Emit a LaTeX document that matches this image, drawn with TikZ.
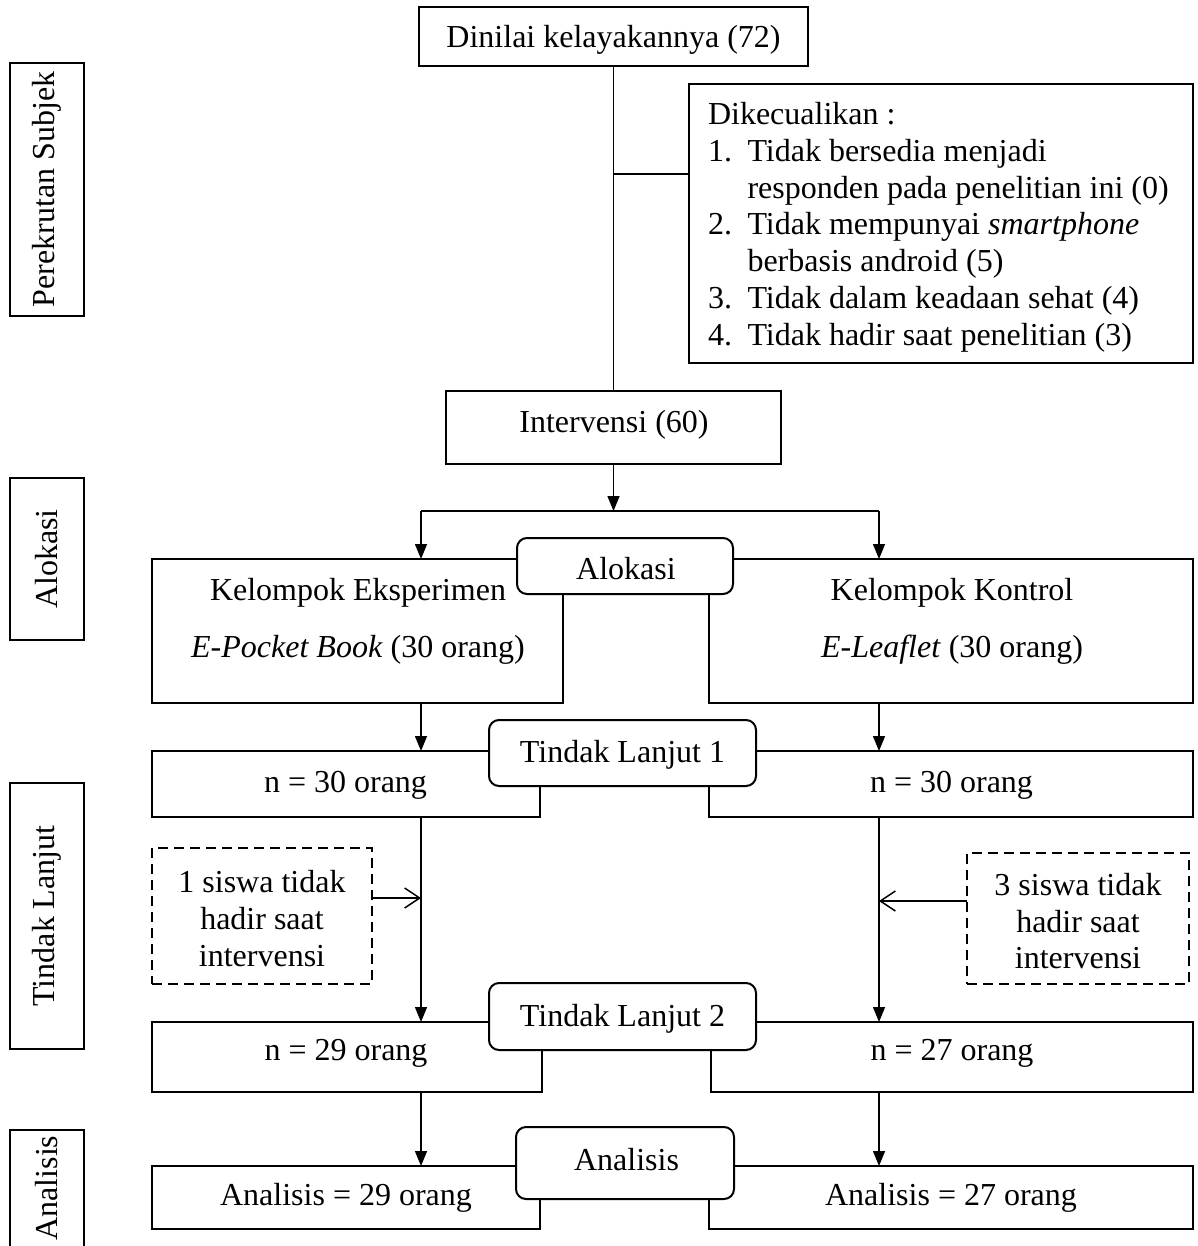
\documentclass[tikz,border=0pt]{standalone}
\usepackage{fontspec}
\setmainfont{Liberation Serif}
\usetikzlibrary{arrows.meta}
\begin{document}
\begin{tikzpicture}[x=1pt,y=-1pt,
  every node/.style={font=\fontsize{32}{36.7}\selectfont, inner sep=0pt, outer sep=0pt},
  box/.style={draw, line width=2pt, rectangle},
  rbox/.style={draw, line width=2pt, rounded corners=10pt, fill=white},
  dbox/.style={draw, line width=2.4pt, dash pattern=on 10pt off 6pt},
  txt/.style={anchor=base, align=center},
  txtl/.style={anchor=base west},
  conn/.style={line width=1.5pt},
  hconn/.style={line width=2pt},
  arr/.style={line width=1.5pt, -{Triangle[length=15pt,width=12pt]}},
  oarr/.style={line width=1.5pt, -{Straight Barb[length=15pt,width=20pt]}},
]
\useasboundingbox (0,0) rectangle (1197,1246);
\clip (0,0) rectangle (1197,1246);

% side label boxes
\node[box, minimum width=74pt, minimum height=253pt] (s1) at (47,189.5) {};
\node[box, minimum width=74pt, minimum height=162pt] (s2) at (47,559) {};
\node[box, minimum width=74pt, minimum height=266pt] (s3) at (47,916) {};
\node[box, minimum width=74pt, minimum height=140pt] (s4) at (47,1200) {};
\node[rotate=90] (ts1) at (47,189.5) {Perekrutan Subjek};
\node[rotate=90] (ts2) at (47,559) {Alokasi};
\node[rotate=90] (ts3) at (47,916) {Tindak Lanjut};
\node[rotate=90] (ts4) at (47,1188) {Analisis};

% main boxes
\node[box, minimum width=389pt, minimum height=59pt] (top) at (613.5,36.5) {};
\node[box, minimum width=504pt, minimum height=279pt] (excl) at (941,223.5) {};
\node[box, minimum width=335pt, minimum height=73pt] (interv) at (613.5,427.5) {};
\node[box, minimum width=411pt, minimum height=144pt] (grpL) at (357.5,631) {};
\node[box, minimum width=484pt, minimum height=144pt] (grpR) at (951,631) {};
\node[box, minimum width=388pt, minimum height=66pt] (n30L) at (346,784) {};
\node[box, minimum width=484pt, minimum height=66pt] (n30R) at (951,784) {};
\node[dbox, minimum width=220pt, minimum height=136pt] (dashL) at (262,916) {};
\node[dbox, minimum width=222pt, minimum height=131pt] (dashR) at (1078,918.5) {};
\node[box, minimum width=390pt, minimum height=70pt] (n29L) at (347,1057) {};
\node[box, minimum width=482pt, minimum height=70pt] (n29R) at (952,1057) {};
\node[box, minimum width=388pt, minimum height=63pt] (anL) at (346,1197.5) {};
\node[box, minimum width=484pt, minimum height=63pt] (anR) at (951,1197.5) {};

% connectors
\coordinate (xL) at (421,0);
\coordinate (xR) at (879,0);
\coordinate (j1) at (613.5,174);
\coordinate (split) at (613.5,511);
\draw[conn] (top.south) -- (interv.north);
\draw[conn] (j1) -- (j1 -| excl.west);
\draw[arr] (interv.south) -- (split);
\draw[hconn] (split -| xL) -- (split -| xR);
\draw[arr] (split -| xL) -- (grpL.north -| xL);
\draw[arr] (split -| xR) -- (grpR.north -| xR);
\draw[arr] (grpL.south -| xL) -- (n30L.north -| xL);
\draw[arr] (grpR.south -| xR) -- (n30R.north -| xR);
\draw[arr] (n30L.south -| xL) -- (n29L.north -| xL);
\draw[arr] (n30R.south -| xR) -- (n29R.north -| xR);
\draw[oarr] ([yshift=18pt]dashL.east) -- ([yshift=18pt]dashL.east -| xL);
\draw[oarr] ([yshift=17.5pt]dashR.west) -- ([yshift=17.5pt]dashR.west -| xR);
\draw[arr] (n29L.south -| xL) -- (anL.north -| xL);
\draw[arr] (n29R.south -| xR) -- (anR.north -| xR);

% rounded stage boxes
\node[rbox, minimum width=216pt, minimum height=56pt] (alok) at (625,566) {};
\node[rbox, minimum width=267pt, minimum height=66pt] (tl1) at (622.5,753) {};
\node[rbox, minimum width=267pt, minimum height=67pt] (tl2) at (622.5,1016.5) {};
\node[rbox, minimum width=218pt, minimum height=72pt] (anal) at (625,1163) {};

% texts
\node[txt] (t-top) at (613.5,48) {Dinilai kelayakannya (72)};
\node[txtl] (te0) at (708,125) {Dikecualikan :};
\node[txtl] (te1n) at (708,162) {1.};
\node[txtl] (te1) at (747.5,162) {Tidak bersedia menjadi};
\node[txtl] (te2) at (747.5,198.5) {responden pada penelitian ini (0)};
\node[txtl] (te3n) at (708,235) {2.};
\node[txtl] (te3) at (747.5,235) {Tidak mempunyai \textit{smartphone}};
\node[txtl] (te4) at (747.5,272) {berbasis android (5)};
\node[txtl] (te5n) at (708,308.5) {3.};
\node[txtl] (te5) at (747.5,308.5) {Tidak dalam keadaan sehat (4)};
\node[txtl] (te6n) at (708,345) {4.};
\node[txtl] (te6) at (747.5,345) {Tidak hadir saat penelitian (3)};
\node[txt] (t-int) at (614,432) {Intervensi (60)};
\node[txt] (t-alok) at (626,579) {Alokasi};
\node[txt] (t-gl1) at (358,600) {Kelompok Eksperimen};
\node[txt] (t-gl2) at (358,657) {\textit{E-Pocket Book} (30 orang)};
\node[txt] (t-gr1) at (952,600) {Kelompok Kontrol};
\node[txt] (t-gr2) at (952,657) {\textit{E-Leaflet} (30 orang)};
\node[txt] (t-tl1) at (622.5,762) {Tindak Lanjut 1};
\node[txt] (t-n30L) at (345.5,792) {n = 30 orang};
\node[txt] (t-n30R) at (951.5,792) {n = 30 orang};
\node[txt] (tdl1) at (262,892) {1 siswa tidak};
\node[txt] (tdl2) at (262,929) {hadir saat};
\node[txt] (tdl3) at (262,966) {intervensi};
\node[txt] (tdr1) at (1078,895) {3 siswa tidak};
\node[txt] (tdr2) at (1078,932) {hadir saat};
\node[txt] (tdr3) at (1078,968) {intervensi};
\node[txt] (t-tl2) at (622.5,1026) {Tindak Lanjut 2};
\node[txt] (t-n29L) at (346,1060) {n = 29 orang};
\node[txt] (t-n27R) at (952,1060) {n = 27 orang};
\node[txt] (t-anal) at (626.5,1170) {Analisis};
\node[txt] (t-anL) at (346,1205) {Analisis = 29 orang};
\node[txt] (t-anR) at (951,1205) {Analisis = 27 orang};
\end{tikzpicture}
\end{document}
